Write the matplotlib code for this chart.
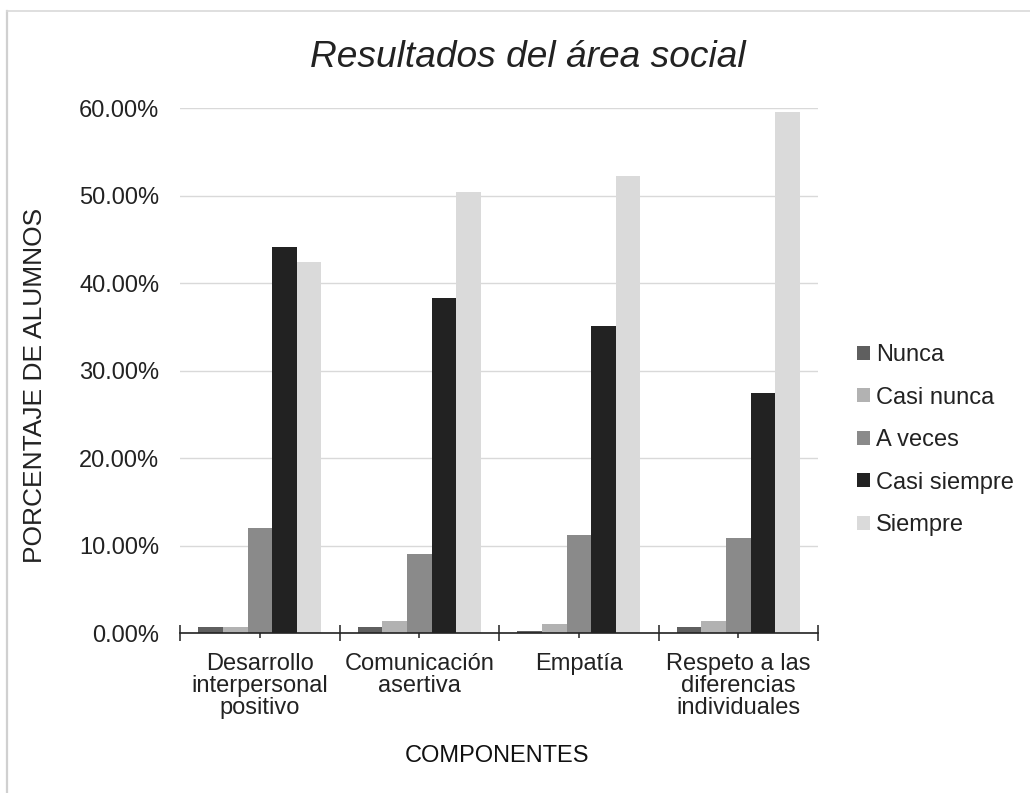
import numpy as np
import matplotlib.pyplot as plt
from matplotlib.lines import Line2D

componentes = ["Desarrollo\ninterpersonal\npositivo", "Comunicación\nasertiva",
               "Empatía", "Respeto a las\ndiferencias\nindividuales"]
series = ["Nunca", "Casi nunca", "A veces", "Casi siempre", "Siempre"]
nunca = [0.69, 0.69, 0.30, 0.69]
casi_nunca = [0.69, 1.40, 1.03, 1.40]
a_veces = [12.0, 9.1, 11.2, 10.9]
casi_siempre = [44.1, 38.3, 35.1, 27.5]
siempre = [42.4, 50.4, 52.2, 59.5]
colores = ["#5f5f5f", "#b2b2b2", "#8a8a8a", "#222222", "#dadada"]
texto = "#222222"

plt.rcParams['font.family'] = ['Liberation Sans', 'DejaVu Sans']

fig = plt.figure(figsize=(10.3, 7.93), dpi=100)
# thin grey frame around the chart area (left and top edges)
fig.add_artist(Line2D([0.0068, 0.0068], [0, 0.9865], transform=fig.transFigure,
                      color="#d0d0d0", linewidth=1.6))
fig.add_artist(Line2D([0.0068, 1], [0.9865, 0.9865], transform=fig.transFigure,
                      color="#d9d9d9", linewidth=1.2))

ax = fig.add_axes([0.1748, 0.2014, 0.6194, 0.6624])

x = np.arange(len(componentes))
w = 0.154
valores = [nunca, casi_nunca, a_veces, casi_siempre, siempre]
for i, (nombre, vals) in enumerate(zip(series, valores)):
    ax.bar(x + (i - 2) * w, vals, w, color=colores[i], label=nombre, zorder=3)

ax.set_xlim(-0.5, len(componentes) - 0.5)
ax.set_ylim(0, 60)
ax.set_yticks(np.arange(0, 61, 10))
ax.set_yticklabels([f"{v:.2f}%" for v in np.arange(0, 61, 10)], fontsize=17, color=texto)
ax.yaxis.grid(True, color="#d9d9d9", linewidth=1, zorder=0)
ax.tick_params(axis='y', length=0, pad=15)

# crossing ticks at category boundaries and centres
ax.set_xticks(np.arange(-0.5, len(componentes), 1.0))
ax.set_xticklabels([])
ax.set_xticks(x, minor=True)
ax.set_xticklabels(componentes, minor=True, fontsize=17, color=texto, linespacing=1.0)
ax.tick_params(axis='x', which='major', direction='inout', length=11, width=1.1, color=texto)
ax.tick_params(axis='x', which='minor', direction='inout', length=7, width=1.1, color=texto, pad=11)

for s in ['top', 'right', 'left']:
    ax.spines[s].set_visible(False)
ax.spines['bottom'].set_color(texto)
ax.spines['bottom'].set_linewidth(1.2)
ax.spines['bottom'].set_zorder(4)

fig.text(0.034, 0.5145, "PORCENTAJE DE ALUMNOS", rotation=90, ha='center', va='center',
         fontsize=19, color=texto)
fig.text(0.4825, 0.0395, "COMPONENTES", ha='center', va='baseline', fontsize=17, color="#111111")
fig.text(0.5125, 0.9159, "Resultados del área social", ha='center', va='baseline',
         fontsize=26.7, style='italic', color=texto)

fig.legend(loc='center left', bbox_to_anchor=(0.832, 0.445), frameon=False,
           fontsize=17, handlelength=0.55, handleheight=0.55, handletextpad=0.25,
           labelspacing=0.87, labelcolor=texto, borderpad=0, borderaxespad=0)

fig.savefig("out.png", dpi=100)
